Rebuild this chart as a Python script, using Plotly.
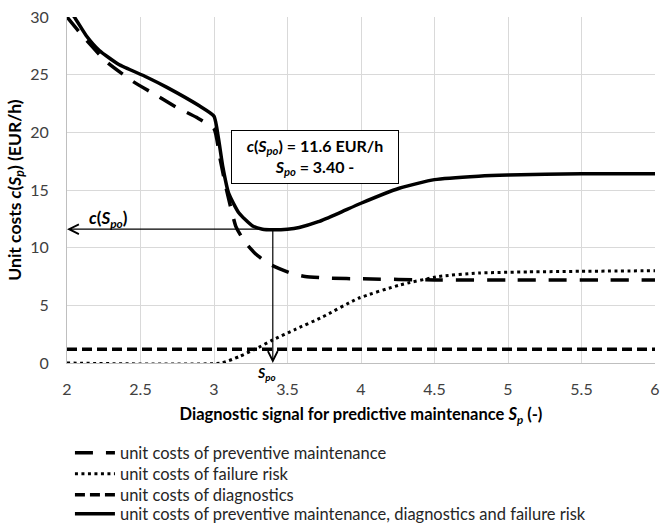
import plotly.graph_objects as go

# ---- data ----
pm_x = [2.00, 2.11, 2.27, 2.45, 2.61, 2.74, 2.88, 3.00, 3.04, 3.08, 3.15, 3.21, 3.28, 3.36, 3.44, 3.53, 3.62, 3.80, 4.00, 4.50, 5.00, 6.00]
pm_y = [30.0, 28.3, 26.1, 24.4, 23.2, 22.2, 21.3, 20.3, 17.8, 15.3, 11.8, 10.5, 9.5, 8.7, 8.2, 7.75, 7.5, 7.35, 7.3, 7.2, 7.2, 7.2]

fr_x = [2.00, 3.05, 3.17, 3.28, 3.40, 3.55, 3.74, 3.98, 4.26, 4.53, 4.80, 5.14, 5.50, 6.00]
fr_y = [0.0, 0.0, 0.55, 1.2, 2.0, 2.9, 4.0, 5.6, 6.75, 7.5, 7.8, 7.9, 7.95, 8.0]

diag_x = [2.0, 6.0]
diag_y = [1.2, 1.2]

tot_x = [2.00, 2.05, 2.13, 2.22, 2.35, 2.54, 2.68, 2.90, 3.00, 3.03, 3.06, 3.10, 3.17, 3.26, 3.33, 3.40, 3.50, 3.58, 3.71, 3.85, 4.00, 4.26, 4.50, 4.80, 5.00, 5.50, 6.00]
tot_y = [30.8, 30.0, 28.4, 27.1, 25.9, 24.8, 23.9, 22.3, 21.4, 19.5, 17.0, 14.7, 13.0, 11.9, 11.6, 11.55, 11.6, 11.75, 12.25, 13.0, 13.85, 15.15, 15.9, 16.2, 16.3, 16.4, 16.4]

s_opt = 3.40
c_opt = 11.6

names = [
    "unit costs of preventive maintenance",
    "unit costs of failure risk",
    "unit costs of diagnostics",
    "unit costs of preventive maintenance, diagnostics and failure risk",
]

x_ticks = [2, 2.5, 3, 3.5, 4, 4.5, 5, 5.5, 6]
y_ticks = [0, 5, 10, 15, 20, 25, 30]

FONT = "Lato"
fig = go.Figure()
fig.add_trace(go.Scatter(x=pm_x, y=pm_y, mode="lines", name=names[0], legend="legend",
                         line=dict(color="black", width=3.5, dash="18px,13px", shape="spline", smoothing=0.5)))
fig.add_trace(go.Scatter(x=fr_x, y=fr_y, mode="lines", name=names[1], legend="legend2",
                         line=dict(color="black", width=3, dash="3px,3.5px", shape="spline", smoothing=0.5)))
fig.add_trace(go.Scatter(x=diag_x, y=diag_y, mode="lines", name=names[2], legend="legend3",
                         line=dict(color="black", width=3.5, dash="10px,5px")))
fig.add_trace(go.Scatter(x=tot_x, y=tot_y, mode="lines", name=names[3], legend="legend4",
                         line=dict(color="black", width=3.5, shape="spline", smoothing=0.5)))

ann = []
# horizontal arrow to the y axis
ann.append(dict(x=x_ticks[0], y=c_opt, ax=s_opt, ay=c_opt, xref="x", yref="y", axref="x", ayref="y",
                showarrow=True, arrowhead=5, arrowsize=1.6, arrowwidth=1.2, arrowcolor="black", text=""))
# vertical arrow to the x axis
ann.append(dict(x=s_opt, y=y_ticks[0], ax=s_opt, ay=c_opt, xref="x", yref="y", axref="x", ayref="y",
                showarrow=True, arrowhead=5, arrowsize=1.6, arrowwidth=1.2, arrowcolor="black", text=""))
ann.append(dict(x=2.28, y=12.5, xref="x", yref="y", showarrow=False,
                text="<b><i>c</i>(<i>S<sub>po</sub></i>)</b>", font=dict(family=FONT, size=17, color="black")))
ann.append(dict(x=3.36, y=-0.065, xref="x", yref="paper", showarrow=False,
                text="<b><i>S<sub>po</sub></i></b>", font=dict(family=FONT, size=14, color="black")))
ann.append(dict(x=3.69, y=17.85, xref="x", yref="y", showarrow=False,
                text=f"<b><i>c</i>(<i>S<sub>po</sub></i>) = {c_opt:.1f} EUR/h<br><i>S<sub>po</sub></i> = {s_opt:.2f} -</b>",
                font=dict(family=FONT, size=16, color="black"), align="center",
                bgcolor="white", bordercolor="black", borderwidth=1, borderpad=4, width=158, height=44))

leg_common = dict(x=0.005, xanchor="left", yanchor="middle", orientation="v",
                  font=dict(family=FONT, size=16.5, color="#262626"), bgcolor="rgba(0,0,0,0)",
                  itemwidth=40)
fig.update_layout(
    width=661, height=523,
    margin=dict(l=67, r=6, t=17, b=160, autoexpand=False),
    paper_bgcolor="white", plot_bgcolor="white",
    font=dict(family=FONT, size=16, color="#262626"),
    showlegend=True,
    legend=dict(y=-0.2601, **leg_common),
    legend2=dict(y=-0.3208, **leg_common),
    legend3=dict(y=-0.3815, **leg_common),
    legend4=dict(y=-0.4365, **leg_common),
    annotations=ann,
)
fig.update_xaxes(range=[2, 6], tickvals=x_ticks, showgrid=True, gridcolor="#d9d9d9", gridwidth=1,
                 showline=True, linecolor="#bfbfbf", linewidth=1, zeroline=False, ticks="",
                 ticklabeloverflow="allow", ticklabelstandoff=12,
                 tickfont=dict(family=FONT, size=16, color="#404040"),
                 title=dict(text="<b>Diagnostic signal for predictive maintenance <i>S<sub>p</sub></i> (-)</b>",
                            font=dict(family=FONT, size=16.5, color="black"), standoff=11))
fig.update_yaxes(range=[0, 30], tickvals=y_ticks, showgrid=True, gridcolor="#d9d9d9", gridwidth=1,
                 showline=True, linecolor="#bfbfbf", linewidth=1, zeroline=False, ticks="",
                 ticklabelstandoff=14,
                 tickfont=dict(family=FONT, size=16, color="#404040"),
                 title=dict(text="<b>Unit costs <i>c</i>(<i>S<sub>p</sub></i>) (EUR/h)</b>",
                            font=dict(family=FONT, size=17.5, color="black"), standoff=4))

fig.write_html("out.html", config={"displayModeBar": False},
               post_script="document.body.style.margin='0';")
